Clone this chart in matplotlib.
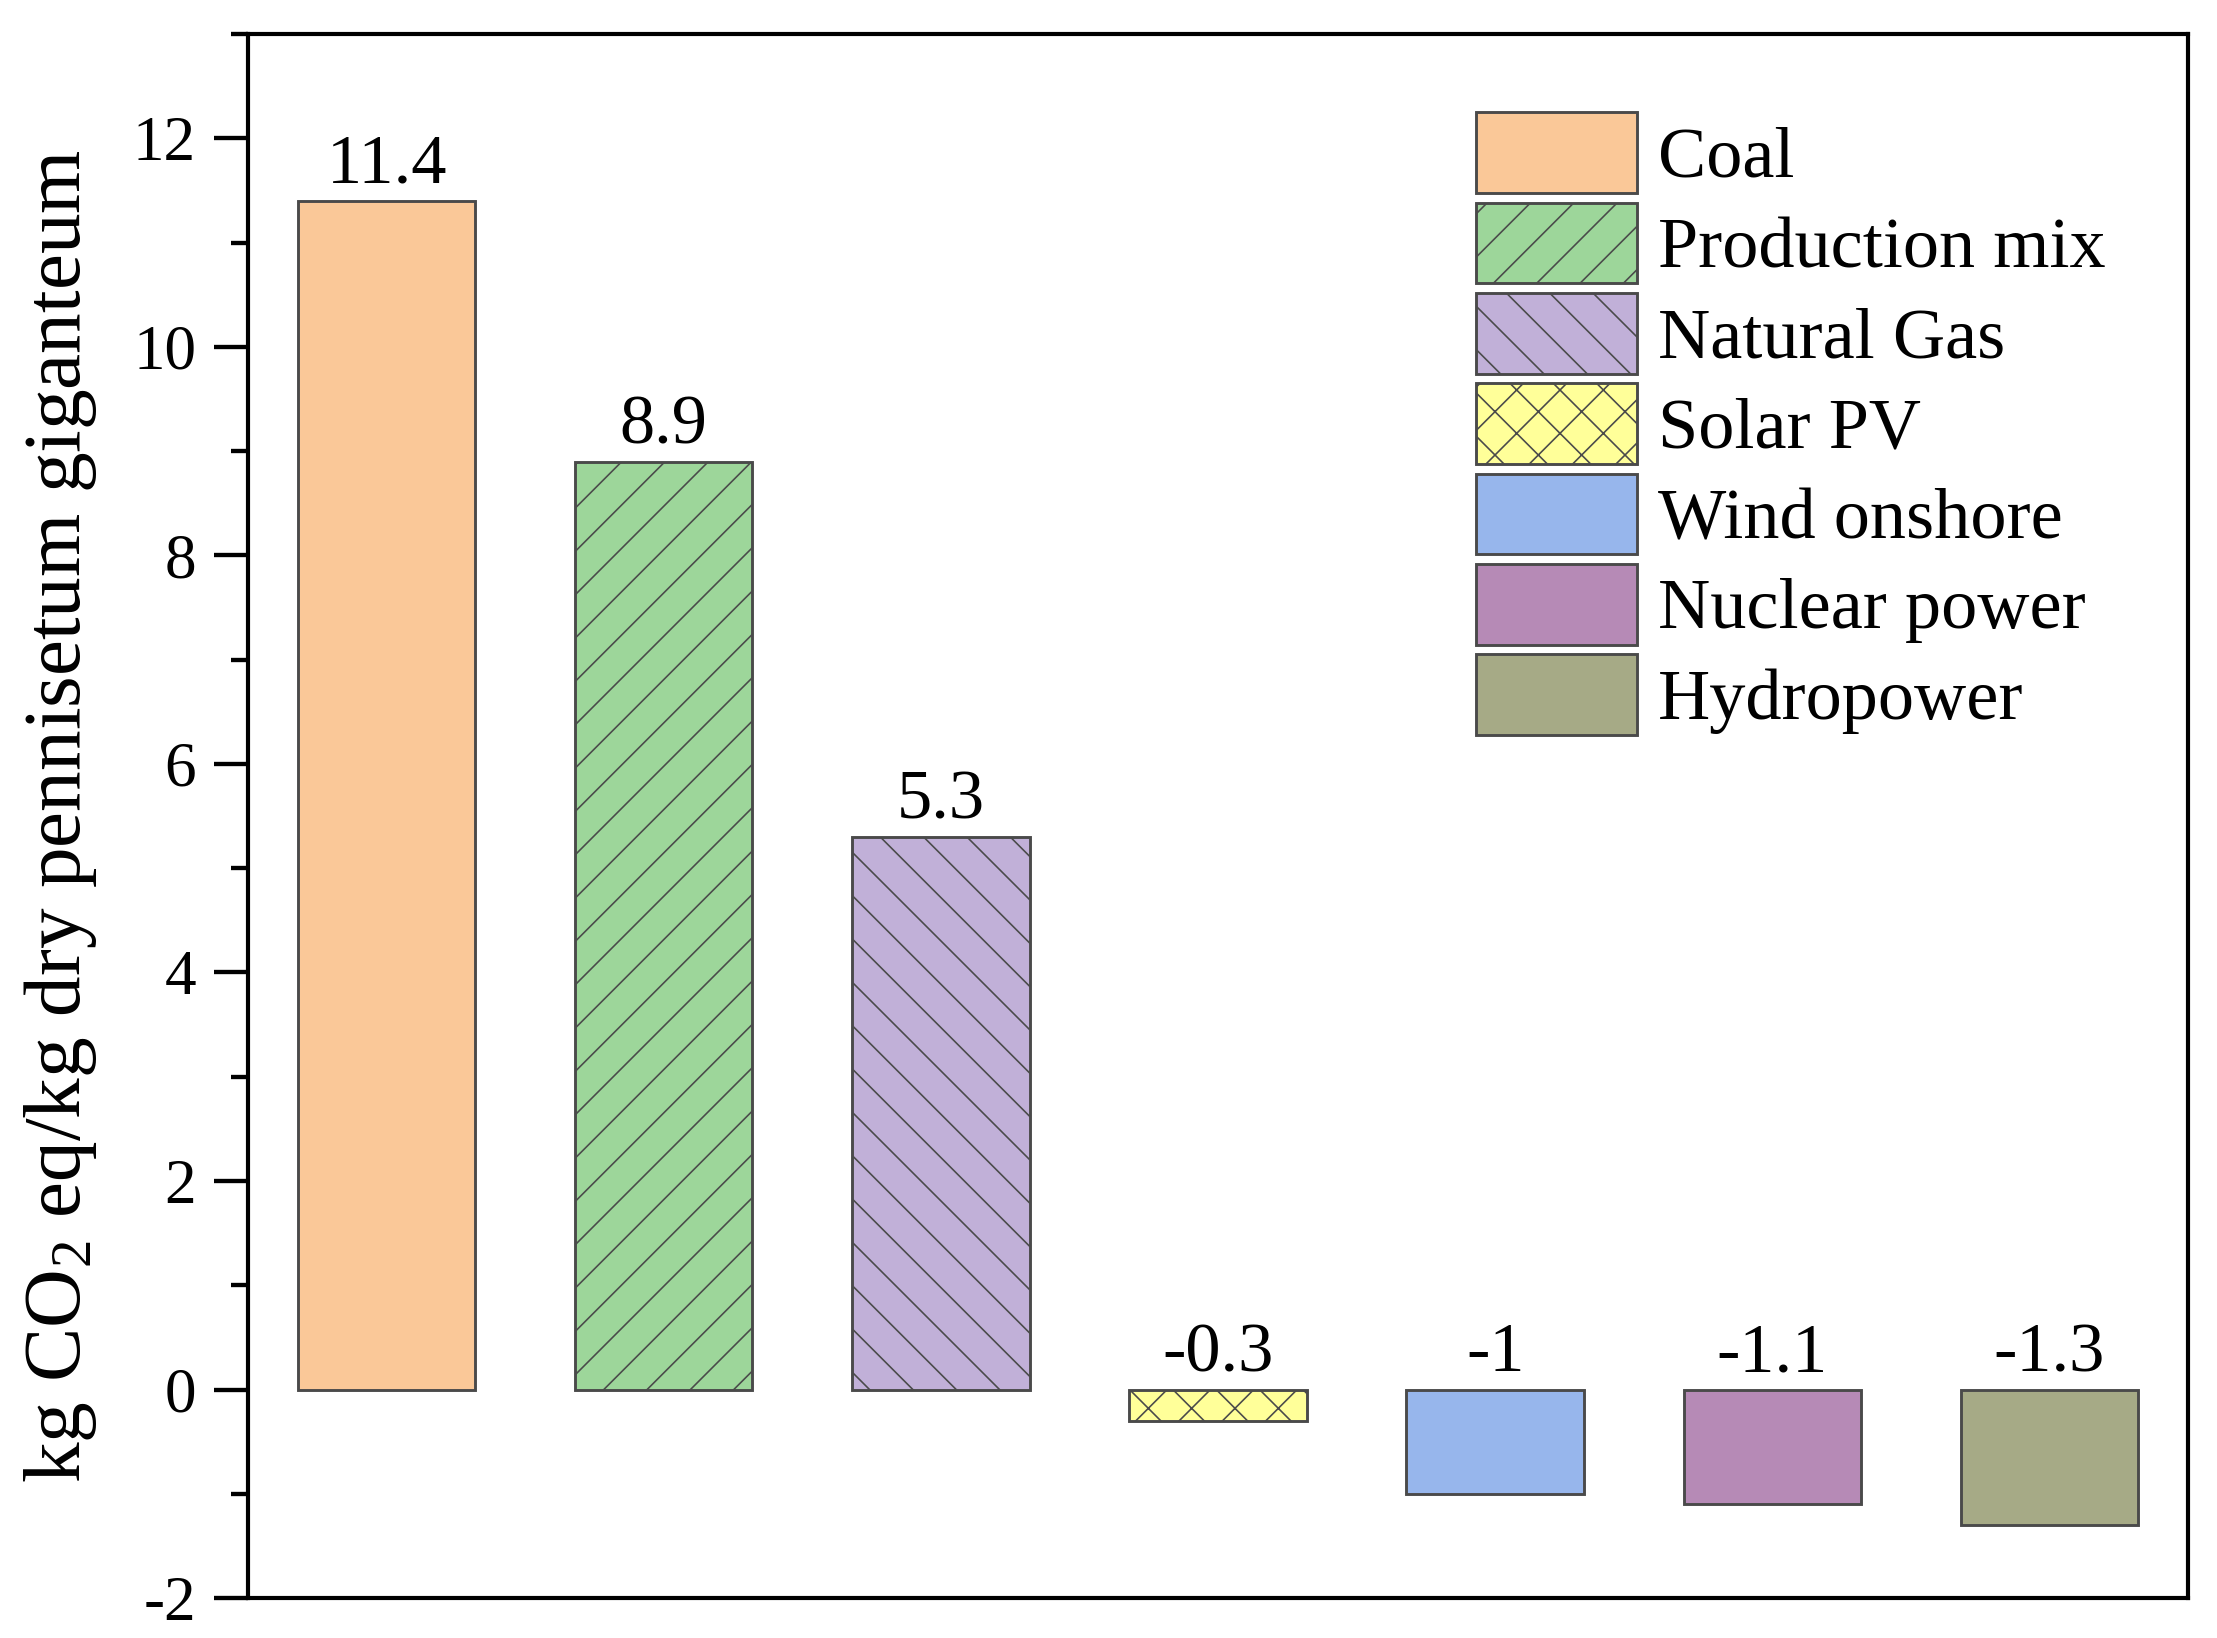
import matplotlib
matplotlib.use("Agg")
import matplotlib.pyplot as plt
from matplotlib.ticker import MultipleLocator

categories = ["Coal", "Production mix", "Natural Gas", "Solar PV",
              "Wind onshore", "Nuclear power", "Hydropower"]
values = [11.4, 8.9, 5.3, -0.3, -1.0, -1.1, -1.3]
value_labels = ["11.4", "8.9", "5.3", "-0.3", "-1", "-1.1", "-1.3"]
colors = ["#FAC898", "#9DD69A", "#C1B0D8", "#FFFF99", "#97B6EC", "#B68AB6", "#A6AA86"]
hatches = ["", "//", "\\\\", "xx", "", "", ""]

plt.rcParams["font.family"] = ["Liberation Serif", "DejaVu Serif"]
plt.rcParams["mathtext.fontset"] = "custom"
plt.rcParams["mathtext.rm"] = "Liberation Serif"
plt.rcParams["mathtext.it"] = "Liberation Serif:italic"
plt.rcParams["hatch.linewidth"] = 0.45
plt.rcParams["axes.unicode_minus"] = False

DPI = 260
fig = plt.figure(figsize=(2217 / DPI, 1638 / DPI), dpi=DPI)
ax = fig.add_axes([0.1119, 0.0244, 0.9869 - 0.1119, 0.9792 - 0.0244])

x = list(range(1, len(values) + 1))
for xi, v, c, h, lab in zip(x, values, colors, hatches, categories):
    ax.bar(xi, v, width=0.64, color=c, edgecolor="#4a4a4a", linewidth=0.8,
           hatch=h if h else None, label=lab)

for xi, v, t in zip(x, values, value_labels):
    ax.annotate(t, xy=(xi, max(v, 0)), xytext=(0, 5), textcoords="offset points",
                ha="center", va="baseline", fontsize=19.5)

ax.set_xlim(0.5, 7.5)
ax.set_ylim(-2, 13)
ax.set_xticks([])
ax.yaxis.set_major_locator(MultipleLocator(2))
ax.yaxis.set_minor_locator(MultipleLocator(1))
ax.tick_params(axis="y", which="major", direction="out", length=9.4, width=1.2,
               labelsize=17.5, pad=5)
ax.tick_params(axis="y", which="minor", direction="out", length=4.7, width=1.2)
for s in ax.spines.values():
    s.set_linewidth(1.15)
    s.set_color("black")

ax.set_ylabel(r"kg CO$_2$ eq/kg dry pennisetum giganteum", fontsize=22.5)
ax.yaxis.set_label_coords(-0.077, 0.5)

ax.legend(loc="upper left", bbox_to_anchor=(0.633, 0.950), frameon=False,
          fontsize=20, handlelength=2.23, handleheight=1.34, labelspacing=0.135,
          handletextpad=0.29, borderpad=0, borderaxespad=0)

fig.savefig("out.png", dpi=DPI)
